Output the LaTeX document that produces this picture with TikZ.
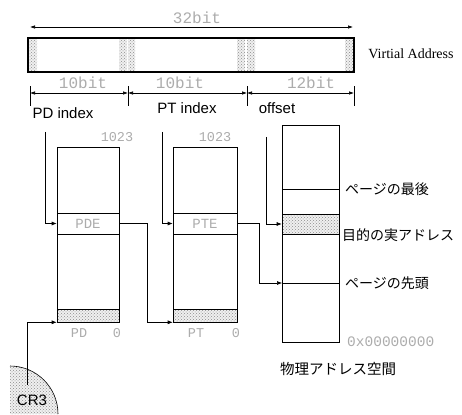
\documentclass[tikz,border=0pt]{standalone}
\usepackage{fontspec}
\newfontfamily\fjp{Noto Sans CJK JP}
\newfontfamily\fsans{Liberation Sans}
\newfontfamily\fmono{Liberation Mono}
\newfontfamily\fserif{Liberation Serif}
\usetikzlibrary{arrows.meta,patterns}
\tikzset{
  shd/.style={preaction={fill=gray!12}, pattern=crosshatch dots, pattern color=gray!90},
  boxline/.style={draw, line width=0.6pt, inner sep=0pt},
  conn/.style={line width=0.6pt, -{Latex[length=5pt,width=4pt]}},
  dimline/.style={line width=0.6pt, {Latex[length=5pt,width=3.5pt]}-{Latex[length=5pt,width=3.5pt]}},
  monotxt/.style={text=gray!65, inner sep=0pt, font=\fmono\fontsize{13.5}{13.5}\selectfont},
  bigmono/.style={text=gray!65, inner sep=0pt, font=\fmono\fontsize{16}{16}\selectfont},
  idxtxt/.style={inner sep=0pt, font=\fsans\fontsize{15}{15}\selectfont},
  jptxt/.style={inner sep=0pt, anchor=west, font=\fjp\fontsize{14}{14}\selectfont},
}
\begin{document}
\begin{tikzpicture}[x=1pt,y=-1pt]
\useasboundingbox (0,0) rectangle (462,414);

% ---- virtual address bar ----
\fill[shd] (28,38) rectangle (37,72);
\fill[shd] (119,38) rectangle (127,72);
\fill[shd] (128,38) rectangle (135,72);
\fill[shd] (237,38) rectangle (245,72);
\fill[shd] (247,38) rectangle (255,72);
\fill[shd] (345,38) rectangle (354,72);
\draw[line width=1.4pt] (28,38) rectangle (354,72);
\node[inner sep=0pt, font=\fserif\fontsize{14}{14}\selectfont] (va) at (411,54) {Virtial Address};

% ---- 32bit dimension ----
\node[bigmono] (b32) at (197,18) {32bit};
\coordinate (d32a) at (30,27);
\coordinate (d32b) at (353,27);
\draw[dimline] (d32a) -- (d32b);

% ---- field dimensions ----
\coordinate (t0) at (30,93);
\coordinate (t1) at (128,93);
\coordinate (t2) at (247,93);
\coordinate (t3) at (354,93);
\foreach \t in {t0,t1,t2,t3} \draw[line width=0.6pt] ([yshift=-13pt]\t) -- ([yshift=7pt]\t);
\draw[dimline] (t0) -- (t1);
\draw[dimline] (t1) -- (t2);
\draw[dimline] (t2) -- (t3);
\node[bigmono] (b10a) at (83,83) {10bit};
\node[bigmono] (b10b) at (180,83) {10bit};
\node[bigmono] (b12) at (311,83) {12bit};

\node[idxtxt] (pdi) at (63,113) {PD index};
\node[idxtxt] (pti) at (187,108) {PT index};
\node[idxtxt] (ofs) at (277,108) {offset};

% ---- page directory ----
\node[boxline, minimum width=62pt, minimum height=175pt] (pd) at (88,234.5) {};
\node[boxline, monotxt, minimum width=62pt, minimum height=21pt, font=\fmono\fontsize{14}{14}\selectfont] (pde) at (88,223.5) {PDE};
\node[boxline, shd, minimum width=62pt, minimum height=13pt] (pd0) at (88,315.5) {};
\node[monotxt] (pd1023) at (117,137) {1023};
\node[monotxt] (pdname) at (79,333) {PD};
\node[monotxt] (pdzero) at (117,333) {0};

% ---- page table ----
\node[boxline, minimum width=64pt, minimum height=175pt] (pt) at (205,234.5) {};
\node[boxline, monotxt, minimum width=64pt, minimum height=21pt, font=\fmono\fontsize{14}{14}\selectfont] (pte) at (205,223.5) {PTE};
\node[boxline, shd, minimum width=64pt, minimum height=13pt] (pt0) at (205,315.5) {};
\node[monotxt] (pt1023) at (215,137) {1023};
\node[monotxt] (ptname) at (196,333) {PT};
\node[monotxt] (ptzero) at (236,333) {0};

% ---- physical memory ----
\node[boxline, minimum width=57pt, minimum height=217pt] (phys) at (310.5,233.5) {};
\node[boxline, shd, minimum width=57pt, minimum height=20pt] (target) at (310.5,224) {};
\coordinate (plastL) at (282,189);
\coordinate (plastR) at (339,189);
\coordinate (pstartL) at (282,283);
\coordinate (pstartR) at (339,283);
\draw[line width=0.6pt] (plastL) -- (plastR);
\draw[line width=0.6pt] (pstartL) -- (pstartR);
\node[jptxt] (lastlbl) at (345,189) {ページの最後};
\node[jptxt] (tgtlbl) at (342,235) {目的の実アドレス};
\node[jptxt] (startlbl) at (345,283) {ページの先頭};
\node[monotxt, anchor=west, font=\fmono\fontsize{14.5}{14.5}\selectfont] (zero) at (347,342) {0x00000000};
\node[inner sep=0pt, font=\fjp\fontsize{14.5}{14.5}\selectfont] (physlbl) at (338,369) {物理アドレス空間};

% ---- CR3 ----
\fill[shd] (10,414) -- (10,366) arc[start angle=-90, end angle=0, radius=48] -- cycle;
\draw[line width=0.6pt] (10,366) arc[start angle=-90, end angle=0, radius=48];
\node[inner sep=0pt, font=\fsans\fontsize{15}{15}\selectfont] (cr3) at (32,400) {CR3};

% ---- connectors ----
\coordinate (pdiTop) at (45,132);
\coordinate (ptiTop) at (162,132);
\coordinate (ofsTop) at (266,137);
\coordinate (j1) at (147,223.5);
\coordinate (j2) at (259,223.5);
\coordinate (cr3Top) at (27,385);
\draw[conn] (pdiTop) |- (pde.west);
\draw[conn] (ptiTop) |- (pte.west);
\draw[conn] (ofsTop) |- (target.west);
\draw[conn] (pde.east) -- (j1) |- (pt.south west);
\draw[conn] (pte.east) -- (j2) |- (pstartL);
\draw[conn] (cr3Top) |- (pd.south west);
\end{tikzpicture}
\end{document}
